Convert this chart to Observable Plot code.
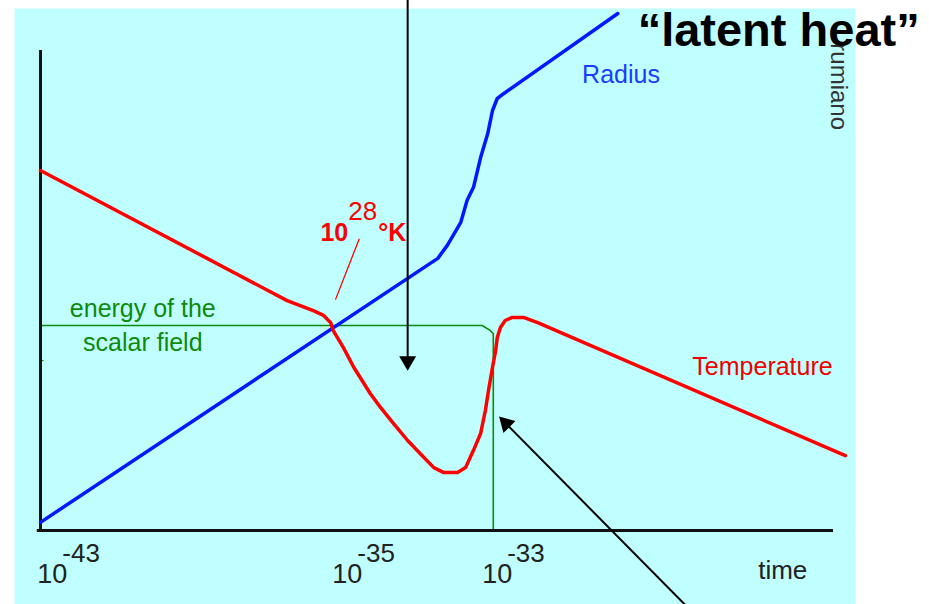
<!DOCTYPE html>
<html>
<head>
<meta charset="utf-8">
<script src="https://cdn.jsdelivr.net/npm/d3@7"></script>
<script src="https://cdn.jsdelivr.net/npm/@observablehq/plot@0.6"></script>
<style>
  html, body { margin: 0; padding: 0; background: #ffffff; }
  #chart svg { display: block; }
</style>
</head>
<body>
<div id="chart"></div>
<script>
// Schematic units: x = position along log-time axis (0..100), y = arbitrary level (0..100)
const tempX = [0, 31.1, 34.4, 35.7, 36.6, 36.9, 38.2, 39.5, 41.6, 42.9, 44.5, 46.3, 47.9, 49.6, 50.8, 52.6, 53.6, 54.6, 55.5, 56.1, 56.5, 57.0, 57.4, 57.6, 58.0, 58.6, 59.5, 60.9, 62.7, 101.5];
const tempY = [75, 47.9, 45.8, 44.8, 43.3, 41.7, 38.1, 34.0, 28.5, 25.6, 22.3, 18.75, 16.0, 13.1, 12.1, 12.1, 13.1, 16.7, 20.2, 25.0, 29.2, 34.0, 37.5, 40.2, 42.3, 43.75, 44.4, 44.4, 43.3, 15.6];

const radiusX = [0, 50.1, 51.3, 53.0, 53.8, 54.6, 55.5, 56.4, 57.0, 57.6, 58.4, 72.8];
const radiusY = [1.7, 56.7, 59.4, 64.2, 68.8, 71.5, 77.7, 82.7, 87.5, 90.0, 91.0, 107.7];

const energyX = [0, 55.7, 56.7, 57.1, 57.1];
const energyY = [42.7, 42.7, 41.7, 41.0, 0];

const tickLabelX = [-0.4, 36.8, 55.7];
const tickExponents = ["-43", "-35", "-33"];

const seriesLabels = ["Radius", "Temperature"];
const seriesLabelX = [68.3, 82.2];
const seriesLabelY = [93.3, 32.5];

const energyLines = ["energy of the", "scalar field"];
const energyLineY = [44.4, 37.5];

const annotations = ["\u201clatent heat\u201d"];

const BG = "#c0ffff";
const RED = "#ff0000";
const BLUE = "#0018ff";
const GREEN = "#0b8a0b";

const temp = tempX.map((x, i) => ({x, y: tempY[i]}));
const radius = radiusX.map((x, i) => ({x, y: radiusY[i]}));
const energy = energyX.map((x, i) => ({x, y: energyY[i]}));
const ticks = tickLabelX.map((x, i) => ({x, exp: tickExponents[i]}));
const labels = seriesLabels.map((t, i) => ({t, x: seriesLabelX[i], y: seriesLabelY[i]}));
const eLines = energyLines.map((t, i) => ({t, y: energyLineY[i]}));

const font = "Liberation Sans, Arial, sans-serif";

const chart = Plot.plot({
  width: 929,
  height: 604,
  marginLeft: 14,
  marginTop: 8,
  marginRight: 74,
  marginBottom: 0,
  style: {background: "#ffffff", fontFamily: font, overflow: "visible"},
  x: {domain: [0, 100], range: [40, 833], axis: null},
  y: {domain: [0, 100], range: [530, 50], axis: null},
  marks: [
    Plot.frame({fill: BG, stroke: "none"}),
    // scalar field energy
    Plot.line(energy, {x: "x", y: "y", stroke: GREEN, strokeWidth: 1.6}),
    Plot.ruleY([35.4], {x1: 0, x2: 0.45, stroke: GREEN, strokeWidth: 1.2}),
    // axes
    Plot.ruleX([0], {y1: 0, y2: 100, stroke: "#111", strokeWidth: 3}),
    Plot.ruleY([0], {x1: -0.4, x2: 100, stroke: "#111", strokeWidth: 3}),
    // curves
    Plot.line(radius, {x: "x", y: "y", stroke: BLUE, strokeWidth: 3.5, strokeLinejoin: "round"}),
    Plot.line(temp, {x: "x", y: "y", stroke: RED, strokeWidth: 3.5, strokeLinejoin: "round"}),
    // pointer from 10^28 K label
    Plot.link([{x1: 40.2, y1: 60.8, x2: 37.2, y2: 48.1}], {x1: "x1", y1: "y1", x2: "x2", y2: "y2", stroke: RED, strokeWidth: 1.3}),
    // arrows
    Plot.link([{x1: 46.3, y1: 112, x2: 46.3, y2: 36}, {x1: 81.6, y1: -16, x2: 58.8, y2: 22.1}],
      {x1: "x1", y1: "y1", x2: "x2", y2: "y2", stroke: "#000", strokeWidth: 2}),
    Plot.dot([{x: 46.3, y: 35.3, r: 180}, {x: 58.7, y: 22.3, r: -45}],
      {x: "x", y: "y", rotate: "r", symbol: "triangle", r: 6.3, fill: "#000", stroke: "none"}),
    // tick labels
    Plot.text(ticks, {x: "x", y: -11.0, text: () => "10", textAnchor: "start", lineAnchor: "bottom", fontSize: 27, fill: "#222"}),
    Plot.text(ticks, {x: "x", y: -6.6, text: "exp", dx: 25, textAnchor: "start", lineAnchor: "bottom", fontSize: 26, fill: "#222"}),
    Plot.text(["time"], {x: 90.5, y: -10, text: d => d, textAnchor: "start", lineAnchor: "bottom", fontSize: 26, fill: "#222"}),
    // series labels
    Plot.text(labels, {x: "x", y: "y", text: "t", textAnchor: "start", lineAnchor: "bottom", fontSize: 25, fill: (d) => d.t === "Radius" ? "#1a3cff" : "#f00000"}),
    Plot.text(eLines, {x: 12.9, y: "y", text: "t", textAnchor: "middle", lineAnchor: "bottom", fontSize: 25, fill: GREEN}),
    // 10^28 °K
    Plot.text(["10"], {x: 35.3, y: 60.4, text: d => d, textAnchor: "start", lineAnchor: "bottom", fontSize: 25, fontWeight: "bold", fill: RED}),
    Plot.text(["28"], {x: 38.8, y: 64.6, text: d => d, textAnchor: "start", lineAnchor: "bottom", fontSize: 26, fill: RED}),
    Plot.text(["\u00b0K"], {x: 42.6, y: 60.4, text: d => d, textAnchor: "start", lineAnchor: "bottom", fontSize: 25, fontWeight: "bold", fill: RED}),
    // vertical signature
    Plot.text(["rumiano"], {x: 99.7, y: 101.5, text: d => d, rotate: 90, textAnchor: "start", lineAnchor: "bottom", fontSize: 24, fill: "#333"}),
    // latent heat title
    Plot.text(annotations, {x: 75.3, y: 101.0, text: d => d, textAnchor: "start", lineAnchor: "bottom", fontSize: 47, fontWeight: "bold", fill: "#000"})
  ]
});

document.getElementById("chart").appendChild(chart);
</script>
</body>
</html>
